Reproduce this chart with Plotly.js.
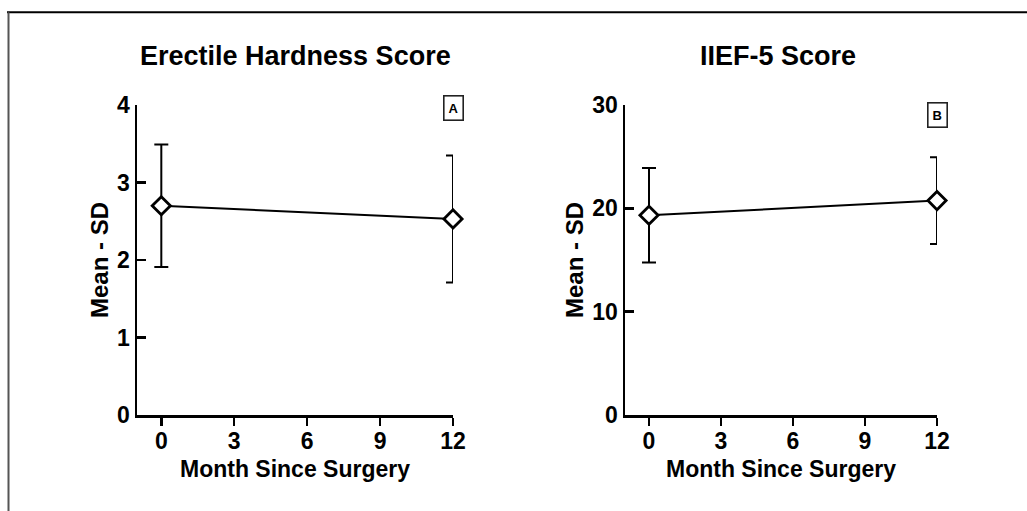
<!DOCTYPE html>
<html>
<head>
<meta charset="utf-8">
<script src="https://cdn.plot.ly/plotly-3.0.1.min.js"></script>
<style>
html,body{margin:0;padding:0;background:#fff;}
#chart{width:1027px;height:511px;}
</style>
</head>
<body>
<div id="chart"></div>
<script>
// Data
const months = [0, 12];
const ehsMean = [2.70, 2.53];
const ehsSD = [0.79, 0.82];
const iiefMean = [19.33, 20.75];
const iiefSD = [4.58, 4.2];
const xTicks = [0, 3, 6, 9, 12];
const ehsTicks = [0, 1, 2, 3, 4];
const iiefTicks = [0, 10, 20, 30];
const titles = ["Erectile Hardness Score", "IIEF-5 Score"];
const panelLabels = ["A", "B"];
const xTitle = "Month Since Surgery";
const yTitle = "Mean - SD";

const FONT = "Liberation Sans, Arial, Helvetica, sans-serif";

function trace(y, sd, xa, ya) {
  return {
    x: months, y: y, xaxis: xa, yaxis: ya,
    type: 'scatter', mode: 'lines+markers',
    cliponaxis: false,
    line: {color: '#000', width: 2},
    marker: {symbol: 'diamond', size: 14, color: '#fff', line: {color: '#000', width: 2.8}},
    error_y: {type: 'data', array: sd, visible: true, color: '#000', thickness: 2, width: 7},
    showlegend: false, hoverinfo: 'x+y'
  };
}

const data = [
  trace(ehsMean, ehsSD, 'x', 'y'),
  trace(iiefMean, iiefSD, 'x2', 'y2')
];

function xaxis(domain, anchor) {
  return {
    domain: domain, anchor: anchor, range: [-1, 12],
    tickvals: xTicks, ticktext: xTicks.map(v => '<b>' + v + '</b>'),
    showgrid: false, zeroline: false,
    showline: true, linecolor: '#000', linewidth: 2.5,
    ticks: 'outside', ticklen: 8, tickwidth: 2.5, tickcolor: '#000',
    ticklabelstandoff: -4,
    tickfont: {family: FONT, size: 23, color: '#000'},
    title: {text: '<b>' + xTitle + '</b>', standoff: 8,
            font: {family: FONT, size: 23, color: '#000'}},
    fixedrange: true
  };
}
function yaxis(domain, anchor, range, ticks) {
  return {
    domain: domain, anchor: anchor, range: range,
    tickvals: ticks, ticktext: ticks.map(v => '<b>' + v + '</b>'),
    showgrid: false, zeroline: false,
    showline: true, linecolor: '#000', linewidth: 2.5,
    ticks: 'inside', ticklen: 9, tickwidth: 2.5, tickcolor: '#000',
    tickfont: {family: FONT, size: 23, color: '#000'},
    title: {text: '<b>' + yTitle + '</b>', standoff: 2,
            font: {family: FONT, size: 24, color: '#000'}},
    fixedrange: true
  };
}

const W = 1027, H = 511;
const yDom = [(H - 415) / H, (H - 105) / H];
const xDomA = [137 / W, 453 / W];
const xDomB = [625 / W, 937 / W];

const layout = {
  width: W, height: H,
  margin: {l: 0, r: 0, t: 0, b: 0},
  paper_bgcolor: '#fff', plot_bgcolor: '#fff',
  font: {family: FONT, color: '#000'},
  xaxis: xaxis(xDomA, 'y'),
  yaxis: yaxis(yDom, 'x', [0, 4], ehsTicks),
  xaxis2: xaxis(xDomB, 'y2'),
  yaxis2: yaxis(yDom, 'x2', [0, 30], iiefTicks),
  annotations: [
    {text: '<b>' + titles[0] + '</b>', xref: 'paper', yref: 'paper',
     x: 295 / W, y: (H - 56.5) / H, xanchor: 'center', yanchor: 'middle',
     showarrow: false, font: {family: FONT, size: 27, color: '#000'}},
    {text: '<b>' + titles[1] + '</b>', xref: 'paper', yref: 'paper',
     x: 778 / W, y: (H - 56.5) / H, xanchor: 'center', yanchor: 'middle',
     showarrow: false, font: {family: FONT, size: 27, color: '#000'}},
    {text: '<b>' + panelLabels[0] + '</b>', xref: 'x', yref: 'y', x: 12, y: 3.96,
     xanchor: 'center', yanchor: 'middle', showarrow: false,
     bordercolor: '#222', borderwidth: 1.6, borderpad: 4, bgcolor: '#fff',
     font: {family: FONT, size: 13, color: '#000'}},
    {text: '<b>' + panelLabels[1] + '</b>', xref: 'x2', yref: 'y2', x: 12, y: 29.07,
     xanchor: 'center', yanchor: 'middle', showarrow: false,
     bordercolor: '#222', borderwidth: 1.6, borderpad: 4, bgcolor: '#fff',
     font: {family: FONT, size: 13, color: '#000'}}
  ],
  shapes: [
    {type: 'line', xref: 'paper', yref: 'paper', x0: 7 / W, x1: 1, y0: (H - 12.3) / H, y1: (H - 12.3) / H,
     line: {color: '#000', width: 2}},
    {type: 'line', xref: 'paper', yref: 'paper', x0: 8.5 / W, x1: 8.5 / W, y0: 0, y1: (H - 12.3) / H,
     line: {color: '#555', width: 2}}
  ]
};

Plotly.newPlot('chart', data, layout, {displayModeBar: false, staticPlot: true});
</script>
</body>
</html>
